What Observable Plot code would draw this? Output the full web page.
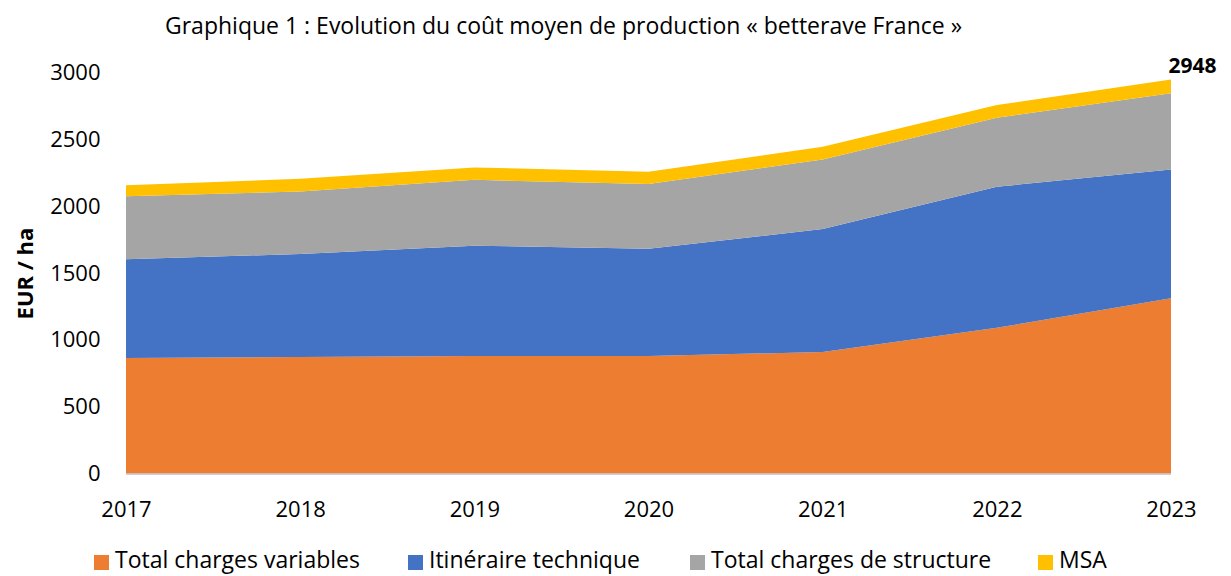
<!DOCTYPE html>
<html><head><meta charset="utf-8">
<script src="https://cdn.jsdelivr.net/npm/d3@7"></script>
<script src="https://cdn.jsdelivr.net/npm/@observablehq/plot@0.6"></script>
<style>
body{margin:0;background:#fff;font-family:"Open Sans",sans-serif;color:#000;}
#wrap{position:relative;width:1231px;height:576px;overflow:hidden;}
#title{position:absolute;left:165px;top:10px;white-space:nowrap;font-size:23px;line-height:30px;}
#chart{position:absolute;left:0;top:50px;}
.leg{position:absolute;top:545px;font-size:23px;line-height:28px;white-space:nowrap;}
.sw{position:absolute;top:555px;width:15px;height:15px;}
</style></head><body>
<div id="wrap">
<div id="title">Graphique 1 : Evolution du coût moyen de production « betterave France »</div>
<div id="chart"></div>
</div>
<script>
const years = [2017, 2018, 2019, 2020, 2021, 2022, 2023];
const chargesVariables = [864, 871, 879, 879, 909, 1090, 1312];
const itineraireTechnique = [738, 771, 825, 802, 920, 1055, 963];
const chargesStructure = [473, 468, 493, 484, 521, 516, 569];
const msa = [82, 95, 93, 92, 94, 95, 104];
const seriesNames = ["Total charges variables", "Itinéraire technique", "Total charges de structure", "MSA"];
const seriesColors = ["#ED7D31", "#4472C4", "#A5A5A5", "#FFC000"];
const yTicks = [0, 500, 1000, 1500, 2000, 2500, 3000];
const totalLabel = [{year: 2023, value: 2948}];

const seriesValues = [chargesVariables, itineraireTechnique, chargesStructure, msa];
const data = [];
seriesNames.forEach((s, i) => years.forEach((y, j) => data.push({year: y, serie: s, value: seriesValues[i][j]})));

const plot = Plot.plot({
  width: 1231, height: 490,
  marginLeft: 126, marginRight: 60, marginTop: 22.5, marginBottom: 66.5,
  style: {fontFamily: "'Open Sans', sans-serif", fontSize: "22px", color: "#000", background: "#fff"},
  x: {type: "linear", domain: [2017, 2023], ticks: years, tickFormat: d => String(d), tickSize: 0, tickPadding: 27, label: null},
  y: {domain: [0, 3000], ticks: yTicks, tickFormat: d => String(d), tickSize: 0, tickPadding: 26, label: null},
  color: {domain: seriesNames, range: seriesColors},
  marks: [
    Plot.areaY(data, {x: "year", y: "value", fill: "serie", order: seriesNames}),
    Plot.ruleY([0], {stroke: "#bfbfbf", strokeWidth: 1.5}),
    Plot.text(totalLabel, {x: "year", y: "value", text: d => String(d.value), dx: 21, dy: -14, fontWeight: "bold", fontSize: 21}),
    Plot.text(["EUR / ha"], {frameAnchor: "left", textAnchor: "middle", dx: -101, rotate: -90, fontWeight: "bold", fontSize: 22})
  ]
});
document.getElementById("chart").appendChild(plot);

const legX = [94, 408, 690, 1038];
const wrap = document.getElementById("wrap");
seriesNames.forEach((s, i) => {
  const sw = document.createElement("div");
  sw.className = "sw"; sw.style.left = legX[i] + "px"; sw.style.background = seriesColors[i];
  wrap.appendChild(sw);
  const t = document.createElement("div");
  t.className = "leg"; t.style.left = (legX[i] + 21) + "px"; t.textContent = s;
  wrap.appendChild(t);
});
</script>
</body></html>
